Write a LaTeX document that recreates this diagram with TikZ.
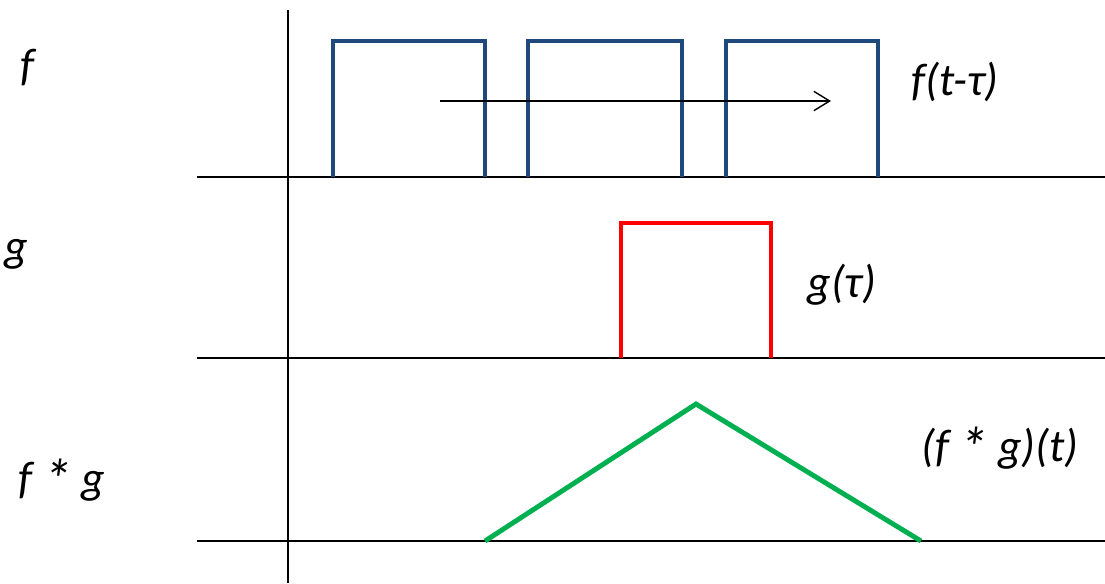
\documentclass[tikz,border=0pt]{standalone}
\usepackage{fontspec}
\setmainfont{Carlito}
\usepackage{tikz}
\usetikzlibrary{arrows.meta, positioning}
\definecolor{PulseBlue}{HTML}{1F497D}
\definecolor{PulseRed}{HTML}{FF0000}
\definecolor{PulseGreen}{HTML}{00B050}
\newcommand{\convstar}{\raisebox{-0.14em}{\scalebox{1.25}{*}}}
\tikzset{
  axis line/.style={draw=black, line width=1.1pt},
  pulse/.style={line width=2.8pt, draw=#1, line join=miter},
  shift arrow/.style={-{Straight Barb[length=9pt, width=11pt, line width=0.8pt]}, line width=0.8pt},
  label text/.style={font=\fontsize{26}{30}\selectfont\itshape, inner sep=0pt, anchor=center},
}

\begin{document}
\begin{tikzpicture}[x=0.02cm, y=-0.02cm]
  \useasboundingbox (0,0) rectangle (1105,583);

  % ── Axes ──────────────────────────────────────────────────────────────────
  \draw[axis line] (288,10) -- (288,583);
  \draw[axis line] (197,177) -- (1105,177);
  \draw[axis line] (197,358) -- (1105,358);
  \draw[axis line] (197,541) -- (1105,541);

  % ── f: shifted pulse train ────────────────────────────────────────────────
  \foreach \xa/\xb in {333/485, 528/682, 726/878}
    \draw[pulse=PulseBlue] (\xa,177) -- (\xa,41) -- (\xb,41) -- (\xb,177);

  \coordinate (shiftstart) at (440,101);
  \coordinate (shiftend)   at (831,101);
  \draw[shift arrow] (shiftstart) -- (shiftend);

  % ── g: single pulse ───────────────────────────────────────────────────────
  \draw[pulse=PulseRed] (621,358) -- (621,223) -- (771,223) -- (771,358);

  % ── f * g: triangle ───────────────────────────────────────────────────────
  \draw[pulse=PulseGreen] (485,541) -- (696,404) -- (921,541);

  % ── Labels ────────────────────────────────────────────────────────────────
  \node[label text] (flabel)   at (27,68)   {f};
  \node[label text] (glabel)   at (16,254)  {g};
  \node[label text] (fglabel)  at (62,480)  {f \convstar{} g};
  \node[label text] (fshift)   at (955,82)  {f(t-τ)};
  \node[label text] (gtau)     at (842,285) {g(τ)};
  \node[label text] (conv)     at (1000,448) {(f \convstar{} g)(t)};

\end{tikzpicture}
\end{document}
